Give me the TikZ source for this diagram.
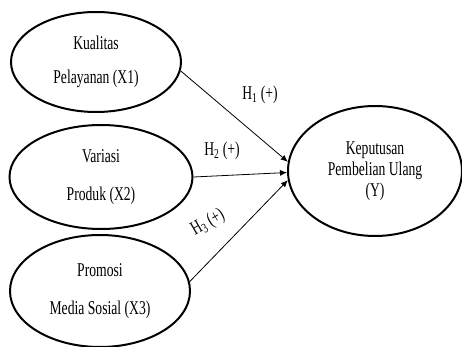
\documentclass[tikz,border=0pt]{standalone}
\usepackage{fontspec}
\setmainfont{Liberation Serif}[FakeStretch=0.7]
\usetikzlibrary{shapes.geometric,arrows.meta}

\begin{document}
\begin{tikzpicture}[x=1pt,y=-1pt,
  var/.style={ellipse,draw,line width=2pt,align=center,inner sep=0pt,font=\fontsize{19.5}{21}\selectfont},
  hyp/.style={font=\fontsize{19.5}{21}\selectfont,inner sep=0pt},
  path/.style={-{Latex[length=7pt,width=6pt]},line width=0.8pt}]
\useasboundingbox (0,0) rectangle (462,347);
\node[var,minimum width=170pt,minimum height=100pt] (x1) at (96,62) {Kualitas\\[13pt]Pelayanan (X1)};
\node[var,minimum width=183pt,minimum height=104pt] (x2) at (101,177) {Variasi\\[17pt]Produk (X2)};
\node[var,minimum width=180pt,minimum height=112pt] (x3) at (100,291) {Promosi\\[17pt]Media Sosial (X3)};
\node[var,minimum width=174pt,minimum height=130pt] (y) at (375,171) {Keputusan\\Pembelian Ulang\\(Y)};
\draw[path] (x1.354) -- (y.174);
\draw[path] (x2.east) -- (y.181);
\draw[path] (x3.6) -- (y.186);
\node[hyp] (h1) at (260,95) {H\textsubscript{1} (+)};
\node[hyp] (h2) at (222,151) {H\textsubscript{2} (+)};
\node[hyp,rotate=30] (h3) at (208,223) {H\textsubscript{3} (+)};
\end{tikzpicture}
\end{document}
